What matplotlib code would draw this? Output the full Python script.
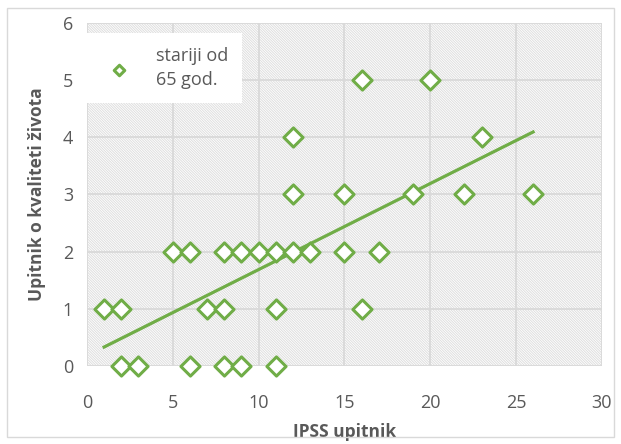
import numpy as np
import matplotlib.pyplot as plt
from matplotlib.patches import Rectangle

# IPSS score vs quality-of-life score, patients older than 65
ipss = [2, 3, 6, 8, 9, 11,
        1, 2, 7, 8, 11, 16,
        5, 6, 8, 9, 10, 11, 12, 13, 15, 17,
        12, 15, 19, 22, 26,
        12, 23,
        16, 20]
qol = [0, 0, 0, 0, 0, 0,
       1, 1, 1, 1, 1, 1,
       2, 2, 2, 2, 2, 2, 2, 2, 2, 2,
       3, 3, 3, 3, 3,
       4, 4,
       5, 5]

x_ticks = [0, 5, 10, 15, 20, 25, 30]
y_ticks = [0, 1, 2, 3, 4, 5, 6]

green = '#70AD47'
grey_text = '#595959'
grid_col = '#d9d9d9'

plt.rcParams['font.family'] = ['Open Sans', 'DejaVu Sans']
plt.rcParams['hatch.linewidth'] = 0.7

fig = plt.figure(figsize=(6.21, 4.44), dpi=100)
ax = fig.add_axes([0.140, 0.176, 0.829, 0.772])

# chart border
fig.patches.append(Rectangle((0.011, 0.016), 0.978, 0.966, transform=fig.transFigure,
                             fill=False, edgecolor=grid_col, linewidth=1.0))

# hatched plot area
ax.add_patch(Rectangle((0, 0), 1, 1, transform=ax.transAxes, facecolor='white',
                       edgecolor='#dedede', hatch='\\' * 13, linewidth=0, zorder=0))

ax.scatter(ipss, qol, marker='D', s=95, facecolors='white', edgecolors=green,
           linewidths=2.2, zorder=3, clip_on=False, label='stariji od\n65 god.')

# linear trendline
k, b = np.polyfit(ipss, qol, 1)
xs = np.array([min(ipss), max(ipss)])
ax.plot(xs, k * xs + b, color=green, linewidth=2.3, zorder=2)

ax.set_xlim(0, 30)
ax.set_ylim(0, 6)
ax.set_xticks(x_ticks)
ax.set_yticks(y_ticks)
ax.grid(True, color=grid_col, linewidth=1.3, zorder=1)
ax.set_axisbelow(True)
for s in ax.spines.values():
    s.set_visible(False)
ax.tick_params(length=0, labelsize=13, colors=grey_text)
ax.tick_params(axis='x', pad=20)
ax.tick_params(axis='y', pad=10)

ax.set_xlabel('IPSS upitnik', fontsize=12.5, fontweight='bold', color=grey_text, labelpad=8)
ax.set_ylabel('Upitnik o kvaliteti života', fontsize=12.5, fontweight='bold', color=grey_text,
              labelpad=12)

leg = ax.legend(loc='upper left', bbox_to_anchor=(0.0, 0.97), frameon=True,
                fontsize=13, handlelength=2.0, handletextpad=1.1, borderpad=0.75,
                borderaxespad=0, scatterpoints=1, markerscale=0.55, fancybox=False)
leg.get_frame().set_edgecolor('none')
leg.get_frame().set_facecolor('white')
leg.get_frame().set_alpha(1.0)
for t in leg.get_texts():
    t.set_color(grey_text)
    t.set_linespacing(1.45)

fig.savefig('out.png', dpi=100)
